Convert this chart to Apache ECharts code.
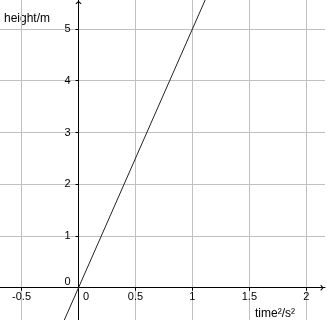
<!DOCTYPE html>
<html lang="en">

<head>
  <meta charset="UTF-8">
  <title>height vs time squared</title>
  <script src="https://cdn.jsdelivr.net/npm/echarts@6/dist/echarts.min.js"></script>
  <style>
    body { margin: 0; }
    #main { width: 327px; height: 320px; }
  </style>
</head>

<body>
  <div id="main"></div>
</body>
<script>
  // data: straight line through the origin, h = 5 t^2
  let timeSq = [-0.2, 0, 1.2]
  let height = [-1, 0, 6]
  let xTicks = [-0.5, 0, 0.5, 1, 1.5, 2]
  let yTicks = [0, 1, 2, 3, 4, 5]

  // visible window of the graph
  let xMin = -1, xMax = 2.164
  let yMin = -1, yMax = 5.56
  let gridW = 360.4, gridH = 339.5

  let chevron = 'path://M0,0 L5,4.4 L3.9,5.6 L0,2.2 L-3.9,5.6 L-5,4.4 Z'
  let font = 'Liberation Sans, Arial, sans-serif'

  // only label the values in the tick lists, zero gets nudged off the axes
  let tickLabel = (list) => (v) => {
    if (list.indexOf(v) < 0) return ''
    return v === 0 ? '{z|0}' : String(v)
  }

  // move the axes onto the zero lines (labels included)
  let xOffset = -(0 - yMin) / (yMax - yMin) * gridH
  let yOffset = -(0 - xMin) / (xMax - xMin) * gridW

  let myCharts = echarts.init(document.getElementById('main'))
  let option = {
    animation: false,
    grid: {
      left: -35.4,
      top: 0,
      width: gridW,
      height: gridH,
      outerBoundsMode: 'none'
    },
    xAxis: {
      type: 'value',
      min: xMin,
      max: xMax,
      interval: 0.5,
      position: 'bottom',
      offset: xOffset,
      axisLine: {
        onZero: false,
        symbol: ['none', chevron],
        symbolSize: [6, 4],
        symbolOffset: [0, -3],
        lineStyle: { color: '#000', width: 1 }
      },
      axisTick: { show: true, length: 3, customValues: xTicks, lineStyle: { color: '#000' } },
      axisLabel: {
        customValues: xTicks,
        hideOverlap: false,
        margin: 4,
        fontSize: 11,
        fontFamily: font,
        color: '#000',
        formatter: tickLabel(xTicks),
        rich: { z: { padding: [0, 0, 0, 15], fontSize: 11, fontFamily: font, color: '#000' } }
      },
      splitLine: { show: true, lineStyle: { color: '#c0c0c0', width: 1 } }
    },
    yAxis: {
      type: 'value',
      min: yMin,
      max: yMax,
      interval: 1,
      position: 'left',
      offset: yOffset,
      axisLine: {
        onZero: false,
        symbol: ['none', chevron],
        symbolSize: [6, 4],
        symbolOffset: [0, -2.5],
        lineStyle: { color: '#000', width: 1 }
      },
      axisTick: { show: true, length: 3, customValues: yTicks, lineStyle: { color: '#000' } },
      axisLabel: {
        customValues: yTicks,
        hideOverlap: false,
        margin: 8,
        fontSize: 11,
        fontFamily: font,
        color: '#000',
        formatter: tickLabel(yTicks),
        rich: { z: { padding: [0, 0, 11, 0], fontSize: 11, fontFamily: font, color: '#000' } }
      },
      splitLine: { show: true, lineStyle: { color: '#c0c0c0', width: 1 } }
    },
    graphic: [
      {
        type: 'text',
        left: 4,
        top: 13,
        style: { text: 'height/m', fontSize: 12, fontFamily: font, fill: '#000' }
      },
      {
        type: 'text',
        left: 255,
        top: 308,
        style: { text: 'time²/s²', fontSize: 12, fontFamily: font, fill: '#000' }
      }
    ],
    series: [
      {
        type: 'line',
        data: timeSq.map((t, i) => [t, height[i]]),
        symbol: 'none',
        silent: true,
        lineStyle: { color: '#222', width: 1 }
      }
    ]
  }
  myCharts.setOption(option)
</script>

</html>
